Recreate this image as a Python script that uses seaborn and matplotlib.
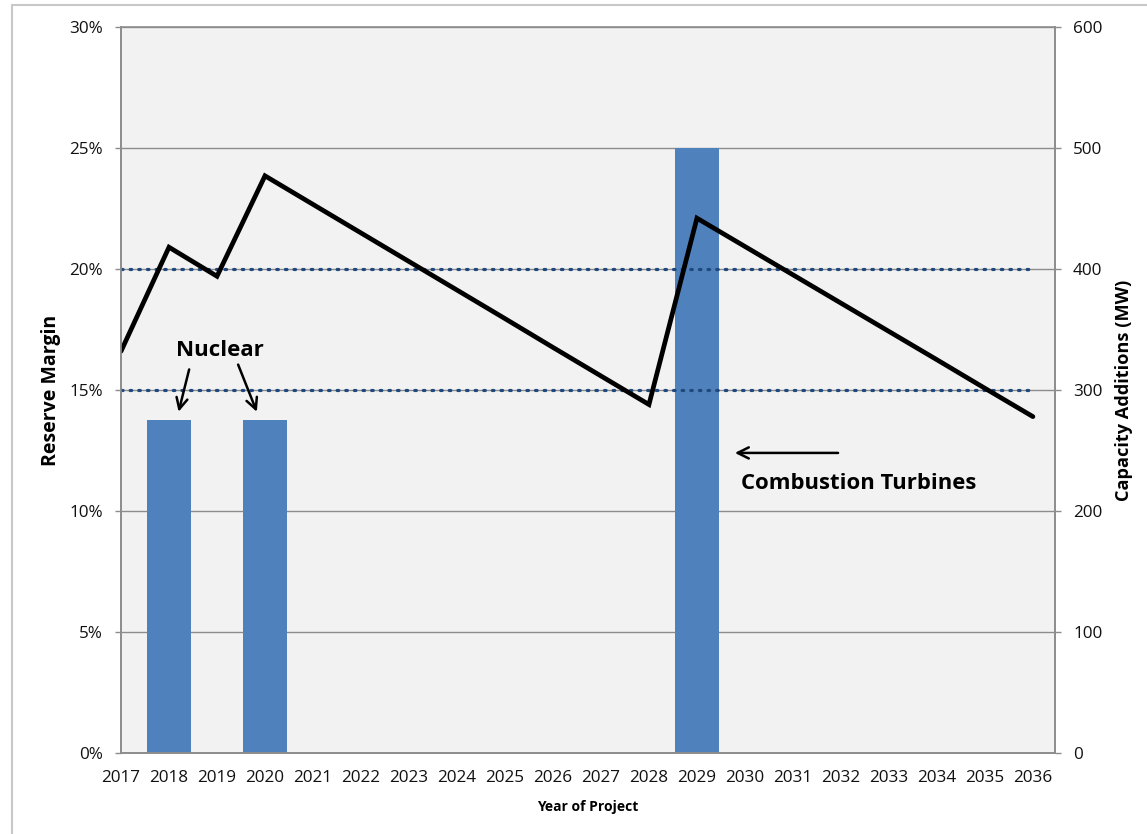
import matplotlib
matplotlib.use("Agg")
import matplotlib.pyplot as plt
import seaborn as sns
import numpy as np
import pandas as pd
from matplotlib.lines import Line2D

years = list(range(2017, 2037))
reserve_margin = [16.6, 20.9, 19.7, 23.85, 22.67, 21.49, 20.31, 19.13, 17.95, 16.76,
                  15.58, 14.4, 22.1, 20.93, 19.76, 18.59, 17.42, 16.25, 15.07, 13.9]
capacity_mw = [0, 275, 0, 275, 0, 0, 0, 0, 0, 0,
               0, 0, 500, 0, 0, 0, 0, 0, 0, 0]
target_high = [20] * 20
target_low = [15] * 20

sns.set_theme(style="white")
plt.rcParams['font.family'] = ['Open Sans', 'DejaVu Sans']

fig = plt.figure(figsize=(11.47, 8.34), dpi=100)
ax = fig.add_axes([121/1147, 1-753/834, (1055-121)/1147, (753-27)/834])
ax.set_facecolor('#F2F2F2')

grid_c = '#8C8C8C'
df = pd.DataFrame({'year': years, 'mw': capacity_mw})
sns.barplot(data=df, x='year', y='mw', native_scale=True, width=0.92,
            color='#4F81BD', saturation=1, ax=ax, edgecolor='none', linewidth=0, zorder=2)
ax.set_ylim(0, 600)
ax.set_yticks(range(0, 601, 100))
ax.grid(axis='y', color=grid_c, lw=1)
ax.set_axisbelow(True)

ax2 = ax.twinx()
ax2.patch.set_visible(False)
dot = (0, (0.5, 2.2))
sns.lineplot(x=years, y=target_high, ax=ax2, color='#1F497D', lw=2.3,
             linestyle=dot, dash_capstyle='round')
sns.lineplot(x=years, y=target_low, ax=ax2, color='#1F497D', lw=2.3,
             linestyle=dot, dash_capstyle='round')
sns.lineplot(x=years, y=reserve_margin, ax=ax2, color='black', lw=3.4,
             solid_joinstyle='miter')
ax2.set_ylim(0, 30)
ax2.set_yticks(range(0, 31, 5))
ax2.set_yticklabels([f"{v}%" for v in range(0, 31, 5)])

# swap sides: MW axis on the right, percent axis on the left
ax.yaxis.tick_right()
ax.yaxis.set_label_position('right')
ax2.yaxis.tick_left()
ax2.yaxis.set_label_position('left')

ax.set_xlim(2017, 2036.46)
ax.set_xticks(years)
ax.set_xticklabels([str(y) for y in years])

for a in (ax, ax2):
    for s in a.spines.values():
        s.set_color(grid_c)
        s.set_linewidth(1.2)
    a.tick_params(axis='both', labelcolor='#111111', labelsize=12.3, length=4,
                  width=1, direction='out', color=grid_c)
ax2.spines['top'].set_visible(False)
ax.tick_params(axis='y', pad=9)
ax2.tick_params(axis='y', pad=9)
ax.tick_params(axis='x', pad=8)

ax.set_xlabel('Year of Project', fontsize=10, fontweight='bold', labelpad=10, color='black')
ax.set_ylabel('Capacity Additions (MW)', fontsize=13.1, fontweight='bold', labelpad=9, color='black')
ax2.set_ylabel('Reserve Margin', fontsize=14, fontweight='bold', labelpad=6, color='black')

# annotations (data coords of ax2: years, percent)
ax2.text(2019.06, 16.65, 'Nuclear', fontsize=16, fontweight='bold', ha='center', va='center', color='black')
ax2.annotate('', xy=(2018.2, 14.1), xytext=(2018.42, 15.85),
             arrowprops=dict(arrowstyle='->', lw=1.8, color='black', mutation_scale=20,
                             shrinkA=0, shrinkB=0))
ax2.annotate('', xy=(2019.83, 14.1), xytext=(2019.44, 16.05),
             arrowprops=dict(arrowstyle='->', lw=1.8, color='black', mutation_scale=20,
                             shrinkA=0, shrinkB=0))
ax2.text(2029.92, 11.15, 'Combustion Turbines', fontsize=15.9, fontweight='bold', ha='left', va='center', color='black')
ax2.annotate('', xy=(2029.79, 12.4), xytext=(2031.94, 12.4),
             arrowprops=dict(arrowstyle='->', lw=1.8, color='black', mutation_scale=20,
                             shrinkA=0, shrinkB=0))

# outer chart border
fig.add_artist(Line2D([12/1147, 12/1147], [0, 1-5/834], color='#C8C8C8', lw=1.5))
fig.add_artist(Line2D([12/1147, 1], [1-5/834, 1-5/834], color='#C8C8C8', lw=1.5))

fig.savefig('out.png', dpi=100, facecolor='white')
